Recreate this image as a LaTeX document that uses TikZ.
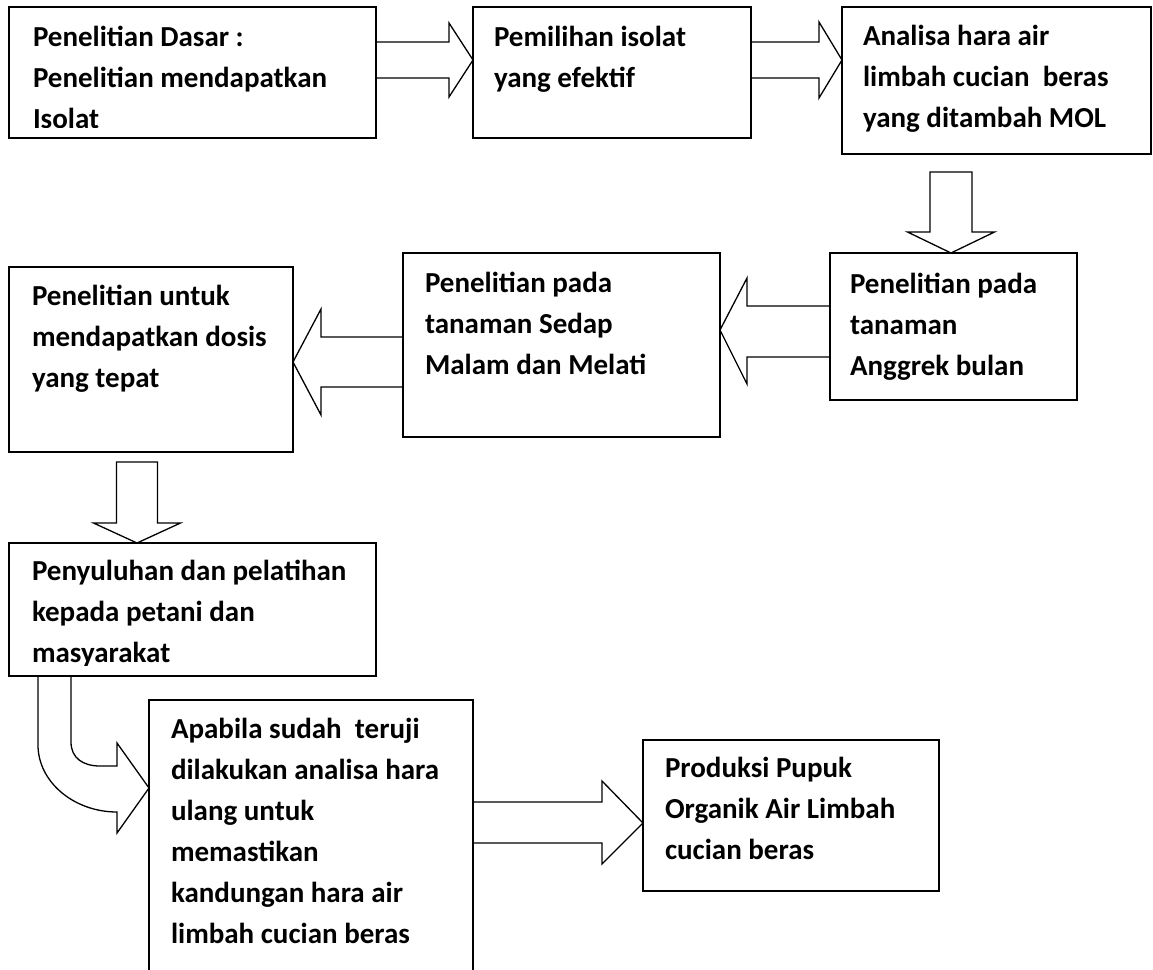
\documentclass[tikz,border=0pt]{standalone}
\usepackage{fontspec}
\setmainfont{Carlito}
\usetikzlibrary{calc}
\tikzset{
  box/.style={draw, line width=1.6pt, rectangle, inner sep=0pt, outer sep=0pt, anchor=north west},
  openbox/.style={rectangle, inner sep=0pt, outer sep=0pt, anchor=north west},
  txt/.style={anchor=base west, inner sep=0pt, outer sep=0pt, align=left,
    font=\fontsize{29}{41}\selectfont\bfseries},
  blk/.style={draw, line width=1.3pt, line join=miter},
}
\begin{document}
\begin{tikzpicture}[x=1pt,y=-1pt]
\useasboundingbox (0,0) rectangle (1153,969);

% boxes
\node[box, minimum width=367pt, minimum height=131pt] (b1) at (9,7) {};
\node[box, minimum width=278pt, minimum height=131pt] (b2) at (473,7) {};
\node[box, minimum width=309pt, minimum height=147pt] (b3) at (842,7) {};
\node[box, minimum width=247pt, minimum height=147pt] (b4) at (830,253) {};
\node[box, minimum width=317pt, minimum height=184pt] (b5) at (403,253) {};
\node[box, minimum width=284pt, minimum height=185pt] (b6) at (9,267) {};
\node[box, minimum width=367pt, minimum height=133pt] (b7) at (9,543) {};
\node[openbox, minimum width=324pt, minimum height=272pt] (b8) at (149,700) {};
\draw[line width=1.6pt] (b8.south west) -- (b8.north west) -- (b8.north east) -- (b8.south east);
\node[box, minimum width=296pt, minimum height=151pt] (b9) at (643,740) {};

% texts (anchor = baseline of the last line)
\begin{scope}
  \clip (b1.north west) rectangle ($(b1.south east)+(0,-11)$);
  \node[txt] (t1) at ($(b1.north west)+(24,121)$) {Penelitian Dasar :\\Penelitian mendapatkan\\Isolat};
\end{scope}
\node[txt] (t2) at ($(b2.north west)+(21,80)$) {Pemilihan isolat\\yang efektif};
\node[txt] (t3) at ($(b3.north west)+(21,120)$) {Analisa hara air\\limbah cucian\ \ beras\\yang ditambah MOL};
\node[txt] (t4) at ($(b4.north west)+(20,122)$) {Penelitian pada\\tanaman\\Anggrek bulan};
\node[txt] (t5) at ($(b5.north west)+(22,121)$) {Penelitian pada\\tanaman Sedap\\Malam dan Melati};
\node[txt] (t6) at ($(b6.north west)+(23,120)$) {Penelitian untuk\\mendapatkan dosis\\yang tepat};
\begin{scope}
  \clip (b7.north west) rectangle ($(b7.south east)+(0,-11)$);
  \node[txt] (t7) at ($(b7.north west)+(23,119)$) {Penyuluhan dan pelatihan\\kepada petani dan\\masyarakat};
\end{scope}
\node[txt] (t8) at ($(b8.north west)+(22,243)$) {Apabila sudah\ \ teruji\\dilakukan analisa hara\\ulang untuk\\memastikan\\kandungan hara air\\limbah cucian beras};
\node[txt] (t9) at ($(b9.north west)+(22,119)$) {Produksi Pupuk\\Organik Air Limbah\\cucian beras};

% block arrows
% b1 -> b2
\draw[blk] ($(b1.north east)+(0,35)$) -- ++(73,0) -- ++(0,-19)
  -- ($(b2.north west)+(0,53)$)
  -- ($(b1.north east)+(73,90)$) -- ++(0,-19) -- ($(b1.north east)+(0,71)$);
% b2 -> b3
\draw[blk] ($(b2.north east)+(0,35)$) -- ++(68,0) -- ++(0,-20)
  -- ($(b3.north west)+(0,53)$)
  -- ($(b2.north east)+(68,91)$) -- ++(0,-20) -- ($(b2.north east)+(0,71)$);
% b3 -> b4 (down)
\coordinate (d1) at ($(b4.north)+(-2.5,0)$);
\draw[blk] ($(d1)+(-21,-81)$) -- ($(d1)+(21,-81)$) -- ($(d1)+(21,-21)$)
  -- ($(d1)+(43.5,-21)$) -- (d1) -- ($(d1)+(-43.5,-21)$)
  -- ($(d1)+(-21,-21)$) -- cycle;
% b4 -> b5 (left)
\draw[blk] ($(b4.north west)+(0,53)$) -- ++(-83,0) -- ++(0,-28)
  -- ($(b5.north east)+(0,77)$)
  -- ($(b4.north west)+(-83,131)$) -- ++(0,-27) -- ($(b4.north west)+(0,104)$);
% b5 -> b6 (left)
\draw[blk] ($(b5.north west)+(0,84)$) -- ++(-82,0) -- ++(0,-28)
  -- ($(b6.north east)+(0,95)$)
  -- ($(b5.north west)+(-82,162)$) -- ++(0,-28) -- ($(b5.north west)+(0,134)$);
% b6 -> b7 (down)
\coordinate (d2) at ($(b7.north west)+(128,0)$);
\draw[blk] ($(d2)+(-20.5,-81)$) -- ($(d2)+(20.5,-81)$) -- ($(d2)+(20.5,-20)$)
  -- ($(d2)+(43.5,-20)$) -- (d2) -- ($(d2)+(-43.5,-20)$)
  -- ($(d2)+(-20.5,-20)$) -- cycle;
% b7 -> b8 (bent)
\coordinate (c1) at ($(b7.south west)+(29,0)$);
\coordinate (c2) at ($(b7.south west)+(62,0)$);
\coordinate (tip8) at ($(b8.north west)+(0,88)$);
\draw[blk] (c1) -- ++(0,69) .. controls ++(0,37) and ($(tip8)+(-75,24)$) .. ($(tip8)+(-32,24)$)
  -- ++(0,21) -- (tip8) -- ($(tip8)+(-32,-45)$) -- ++(0,23) -- ++(-17,0)
  .. controls ++(-17,0) and ($(c2)+(0,82)$) .. ($(c2)+(0,66)$) -- (c2);
% b8 -> b9 (right)
\draw[blk] ($(b8.north east)+(0,102)$) -- ++(129,0) -- ++(0,-21)
  -- ($(b9.north west)+(0,83)$)
  -- ($(b8.north east)+(129,164)$) -- ++(0,-21) -- ($(b8.north east)+(0,143)$);
\end{tikzpicture}
\end{document}
